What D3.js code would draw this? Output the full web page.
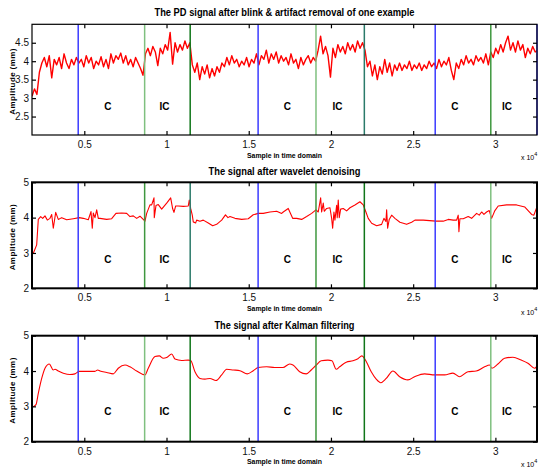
<!DOCTYPE html>
<html>
<head>
<meta charset="utf-8">
<script src="https://cdn.jsdelivr.net/npm/d3@7"></script>
<style>
  body { margin: 0; background: #fff; }
  svg { display: block; font-family: "Liberation Sans", Arial, sans-serif; }
</style>
</head>
<body>
<div id="chart"></div>
<script>
// sample axis (shared by the three panels)
var xDomain = [1820, 32530];
var xTicks = [5000, 10000, 15000, 20000, 25000, 30000];

// condition boundaries (samples) and the C / IC labels
var markerX = [4630, 8670, 11440, 15570, 19090, 22030, 26340, 29720];
var labelC = [6441, 17354, 27538];
var labelIC = [9876, 20394, 30700];

// raw PD signal, one value every rawStep samples from rawStart
var rawStart = 1820, rawStep = 150;
var rawPD = [
  3.05, 3.25, 3.1, 3.7, 3.95, 4.1, 3.85, 4.15, 3.55, 4.05,
  3.9, 4.1, 3.8, 4.2, 3.95, 3.8, 4.05, 3.9, 4.1, 3.95,
  4.05, 3.85, 4.15, 3.95, 4.1, 3.8, 4.0, 3.9, 4.12, 3.85,
  4.05, 3.8, 4.2, 3.95, 4.15, 4.05, 4.22, 3.95, 4.15, 3.9,
  4.05, 3.85, 4.1, 3.95, 3.8, 3.62, 4.2, 4.35, 4.15, 4.4,
  4.25, 3.88, 4.35, 4.2, 4.45, 4.3, 4.78, 3.92, 4.5, 4.25,
  4.45, 4.3, 4.55, 4.35, 4.5, 3.9, 3.7, 3.95, 3.5, 3.85,
  3.65, 3.9, 3.55, 3.8, 3.6, 3.85, 3.7, 3.95, 3.85, 4.1,
  3.9, 4.15, 3.95, 4.05, 3.85, 4.0, 3.9, 4.1, 3.85, 4.05,
  3.95, 4.2, 3.9, 4.15, 4.05, 4.3, 3.95, 4.2, 4.05, 4.25,
  3.95, 4.15, 4.0, 4.1, 3.9, 4.2, 3.95, 4.05, 3.8, 4.1,
  3.9, 4.05, 4.15, 3.95, 4.1, 4.0, 4.3, 4.68, 4.2, 4.4,
  4.15, 3.57, 4.35, 4.1, 4.45, 4.25, 4.4, 4.2, 4.5, 4.3,
  4.45, 4.25, 4.55, 4.35, 4.5, 4.3, 3.85, 4.0, 3.6, 3.9,
  3.5, 3.85, 3.65, 4.05, 3.7, 3.95, 3.6, 3.9, 3.75, 3.95,
  3.75, 3.9, 3.8, 4.0, 3.75, 3.9, 3.8, 3.95, 3.75, 3.9,
  3.8, 4.0, 3.85, 3.95, 3.8, 4.05, 3.85, 4.0, 3.9, 4.1,
  3.75, 3.5, 3.95, 3.8, 4.05, 3.9, 4.15, 3.95, 4.05, 3.9,
  4.15, 4.0, 4.1, 3.95, 4.2, 3.9, 4.25, 4.1, 4.35, 4.2,
  4.45, 4.25, 4.5, 4.68, 4.3, 4.5, 4.25, 4.55, 4.3, 4.45,
  4.1, 4.35, 4.2, 4.4, 4.25, 4.3
];

// wavelet denoised signal
var waveX = [1900, 2105, 2203, 2349, 2471, 2610, 2750, 2914, 3018, 3115, 3261, 3419, 3626, 3930, 4331,
  4696, 4939, 5243, 5407, 5486, 5547, 5650, 5754, 5851, 5954, 6362, 6666, 6927, 7274, 7578, 7778,
  7979, 8186, 8386, 8690, 8794, 8994, 9098, 9238, 9256, 9359, 9499, 9706, 10010, 10253, 10375, 10454,
  10557, 10715, 11019, 11323, 11384, 11469, 11566, 11627, 11773, 11834, 12034, 12235, 12539, 12807,
  13050, 13354, 13585, 13737, 13858, 14162, 14570, 14971, 15275, 15579, 15883, 16290, 16698, 17002,
  17099, 17403, 17671, 17914, 18218, 18522, 18826, 19087, 19227, 19373, 19434, 19531, 19592, 19738,
  19938, 20042, 20103, 20182, 20242, 20346, 20382, 20443, 20504, 20589, 20747, 20954, 21154, 21458,
  21762, 21963, 22127, 22267, 22474, 22778, 23082, 23222, 23343, 23386, 23447, 23544, 23690, 23890,
  24194, 24602, 24906, 25106, 25611, 26383, 26827, 27131, 27435, 27642, 27739, 27782, 27842, 28043,
  28347, 28554, 28858, 29016, 29162, 29302, 29465, 29624, 29770, 29970, 30171, 30682, 31290, 31794,
  32202, 32342, 32524];
var waveY = [2.99, 3.23, 3.95, 4.03, 3.98, 4.05, 3.93, 3.98, 4.09, 3.70, 4.15, 3.95, 4.0, 3.94, 3.97,
  4.0, 3.98, 3.94, 4.17, 3.70, 4.13, 4.0, 4.22, 3.98, 3.98, 3.95, 3.97, 4.12, 4.13, 4.12, 4.03,
  4.05, 3.98, 4.04, 3.9, 4.12, 4.36, 4.36, 4.56, 4.0, 4.34, 4.37, 4.24, 4.41, 4.56, 4.25, 4.15,
  4.33, 4.33, 4.32, 4.33, 4.5, 4.26, 4.07, 3.88, 3.85, 3.93, 3.9, 3.93, 3.85, 3.77,
  3.81, 3.93, 4.08, 4.0, 4.03, 3.98, 3.95, 3.97, 4.08, 4.12, 4.12, 4.16, 4.18, 4.12,
  4.16, 4.26, 3.98, 3.98, 3.95, 4.03, 4.12, 4.22, 4.16, 4.56, 4.16, 4.41, 4.18, 4.26,
  4.28, 3.98, 3.70, 4.16, 3.93, 4.35, 4.0, 4.5, 4.0, 4.24, 4.26, 4.19, 4.28, 4.36,
  4.45, 4.36, 4.16, 3.98, 3.84, 3.77, 3.81, 3.98, 3.89, 4.22, 3.70, 3.95, 4.07, 3.98,
  3.87, 3.81, 3.87, 3.93, 3.93, 3.9, 3.9, 3.95, 3.93, 3.93, 4.07, 3.6, 3.97, 3.97,
  4.03, 3.98, 4.12, 4.07, 4.16, 4.09, 4.16, 4.2, 3.98, 4.2, 4.33, 4.36, 4.36, 4.3,
  4.09, 4.07, 4.3];

// Kalman filtered signal
var kalX = [1900, 2063, 2203, 2410, 2610, 2872, 3115, 3218, 3419, 3723, 4130, 4434, 4696, 5042, 5450,
  5650, 5815, 5954, 6362, 6763, 7067, 7474, 7778, 8186, 8690, 8891, 9298, 9560, 9803, 10010, 10314,
  10514, 10922, 11323, 11469, 11730, 12034, 12338, 12642, 13007, 13354, 13658, 14059, 14466, 14910,
  15275, 15579, 16090, 16576, 17081, 17488, 17689, 18096, 18497, 18801, 19105, 19409, 19817, 20060,
  20321, 20528, 20929, 21337, 21641, 21884, 22085, 22449, 22753, 23021, 23361, 23769, 24176, 24681,
  25088, 25696, 26304, 26912, 27417, 27824, 28329, 28833, 29344, 29648, 29788, 30153, 30560, 31065,
  31570, 31978, 32385, 32524];
var kalY = [2.99, 3.05, 3.37, 3.79, 4.08, 4.2, 4.03, 4.05, 4.0, 3.94, 3.9, 3.92, 3.99, 3.99, 3.99,
  3.99, 4.03, 4.0, 3.96, 3.92, 4.08, 4.17, 4.12, 4.0, 3.89, 4.08, 4.41, 4.43, 4.36, 4.38, 4.48,
  4.34, 4.3, 4.31, 4.3, 3.98, 3.79, 3.77, 3.79, 3.73, 3.89, 4.05, 4.03, 4.01, 3.92,
  4.01, 4.1, 4.12, 4.1, 4.1, 4.2, 4.17, 3.98, 3.92, 4.03, 4.17, 4.29, 4.31, 4.29,
  4.05, 4.12, 4.25, 4.29, 4.35, 4.43, 4.32, 3.98, 3.77, 3.67, 3.79, 4.0, 3.84, 3.75,
  3.84, 3.92, 3.89, 3.89, 3.94, 3.84, 3.98, 4.0, 4.12, 4.17, 4.08, 4.2, 4.36, 4.39,
  4.31, 4.22, 4.08, 4.14];

// colours
var BLUE = "#3b3bff", LGREEN = "#7fc07f", GREEN = "#3f973f", DGREEN = "#10761a", TEAL = "#2b7a6a";

var rawPoints = rawPD.map(function(v, i) { return [rawStart + i * rawStep, v]; });
var wavePoints = waveX.map(function(x, i) { return [x, waveY[i]]; });
var kalPoints = kalX.map(function(x, i) { return [x, kalY[i]]; });

var panels = [
  { title: "The PD signal after blink & artifact removal of one example", titleW: 260, titleY: 15.5,
    top: 24.3, bottom: 135, yDomain: [2, 5], yTicks: [2.5, 3, 3.5, 4, 4.5], yFmt: d3.format(".1~f"),
    data: rawPoints, curve: d3.curveLinear, lineW: 1.4, border: 1.2,
    colors: [BLUE, LGREEN, DGREEN, BLUE, LGREEN, TEAL, BLUE, GREEN], leftBlue: false, labelY: 110, x10Y: 160 },
  { title: "The signal after wavelet denoising", titleW: 152, titleY: 174.5,
    top: 182.3, bottom: 288.3, yDomain: [2, 5], yTicks: [2, 3, 4, 5], yFmt: d3.format("d"),
    data: wavePoints, curve: d3.curveLinear, lineW: 1.1, border: 2,
    colors: [BLUE, GREEN, TEAL, BLUE, GREEN, DGREEN, BLUE, LGREEN], leftBlue: true, labelY: 262.5, x10Y: 315 },
  { title: "The signal after Kalman filtering", titleW: 140, titleY: 328.5,
    top: 335.7, bottom: 441.7, yDomain: [2, 5], yTicks: [2, 3, 4, 5], yFmt: d3.format("d"),
    data: kalPoints, curve: d3.curveMonotoneX, lineW: 1.1, border: 2,
    colors: [BLUE, LGREEN, DGREEN, BLUE, GREEN, DGREEN, BLUE, LGREEN], leftBlue: false, labelY: 414.5, x10Y: 467 }
];

var svg = d3.select("#chart").append("svg").attr("width", 538).attr("height", 469);
svg.append("rect").attr("width", 538).attr("height", 469).attr("fill", "#fff");

var left = 32, right = 537;
var x = d3.scaleLinear().domain(xDomain).range([left, right]);

panels.forEach(function(p, k) {
  var y = d3.scaleLinear().domain(p.yDomain).range([p.bottom, p.top]);
  var g = svg.append("g");

  g.append("clipPath").attr("id", "clip" + k)
    .append("rect").attr("x", left).attr("y", p.top).attr("width", right - left).attr("height", p.bottom - p.top);

  // signal
  g.append("path").datum(p.data)
    .attr("clip-path", "url(#clip" + k + ")")
    .attr("fill", "none").attr("stroke", "#ff0000").attr("stroke-width", p.lineW)
    .attr("stroke-linejoin", "round")
    .attr("d", d3.line().curve(p.curve).x(function(d) { return x(d[0]); }).y(function(d) { return y(d[1]); }));

  // condition boundaries
  var marks = markerX.map(function(m, i) { return { x: m, c: p.colors[i] }; });
  marks.push({ x: xDomain[1], c: BLUE });
  if (p.leftBlue) marks.push({ x: xDomain[0], c: BLUE });
  g.selectAll("line.mark").data(marks).enter().append("line")
    .attr("x1", function(d) { return x(d.x); }).attr("x2", function(d) { return x(d.x); })
    .attr("y1", p.top).attr("y2", p.bottom)
    .attr("stroke", function(d) { return d.c; }).attr("stroke-width", 1.5);

  // C / IC labels
  var labs = labelC.map(function(v) { return { x: v, t: "C" }; })
    .concat(labelIC.map(function(v) { return { x: v, t: "IC" }; }));
  g.selectAll("text.lab").data(labs).enter().append("text")
    .attr("x", function(d) { return x(d.x); }).attr("y", p.labelY)
    .attr("text-anchor", "middle").attr("font-size", 10).attr("font-weight", "bold")
    .text(function(d) { return d.t; });

  // axes with inward ticks
  var ax = g.append("g").attr("font-size", 8);
  ax.append("g").attr("transform", "translate(0," + p.bottom + ")")
    .call(d3.axisBottom(x).tickValues(xTicks).tickSize(-4).tickPadding(6)
      .tickFormat(function(d) { return d3.format("~g")(d / 10000); }));
  ax.append("g").attr("transform", "translate(0," + p.top + ")")
    .call(d3.axisTop(x).tickValues(xTicks).tickSize(-4).tickFormat(""));
  ax.append("g").attr("transform", "translate(" + left + ",0)")
    .call(d3.axisLeft(y).tickValues(p.yTicks).tickSize(-4).tickPadding(3).tickFormat(p.yFmt));
  ax.append("g").attr("transform", "translate(" + right + ",0)")
    .call(d3.axisRight(y).tickValues(p.yTicks).tickSize(-4).tickFormat(""));
  ax.selectAll(".domain").remove();
  ax.selectAll("line").attr("stroke", "#000").attr("stroke-width", 1.2);
  ax.selectAll("text").attr("fill", "#111").attr("font-family", "\"Liberation Sans\", Arial, sans-serif");

  // frame
  g.append("rect").attr("x", left).attr("y", p.top).attr("width", right - left).attr("height", p.bottom - p.top)
    .attr("fill", "none").attr("stroke", "#000").attr("stroke-width", p.border);

  // titles
  g.append("text").attr("x", (left + right) / 2).attr("y", p.titleY)
    .attr("text-anchor", "middle").attr("font-size", 10.5).attr("font-weight", "bold")
    .attr("textLength", p.titleW).attr("lengthAdjust", "spacingAndGlyphs")
    .text(p.title);
  g.append("text").attr("x", (left + right) / 2).attr("y", p.bottom + 22.5)
    .attr("text-anchor", "middle").attr("font-size", 8).attr("font-weight", "bold")
    .attr("textLength", 75).attr("lengthAdjust", "spacingAndGlyphs")
    .text("Sample in time domain");
  g.append("text").attr("transform", "translate(15," + ((p.top + p.bottom) / 2 + 2) + ") rotate(-90)")
    .attr("text-anchor", "middle").attr("font-size", 8).attr("font-weight", "bold")
    .attr("textLength", 66).attr("lengthAdjust", "spacing")
    .text("Amplitude (mm)");

  // x 10^4 multiplier
  var mult = g.append("text").attr("x", 521).attr("y", p.x10Y).attr("font-size", 7);
  mult.append("tspan").text("x 10");
  mult.append("tspan").attr("dy", -4).attr("font-size", 5.5).text("4");
});
</script>
</body>
</html>
